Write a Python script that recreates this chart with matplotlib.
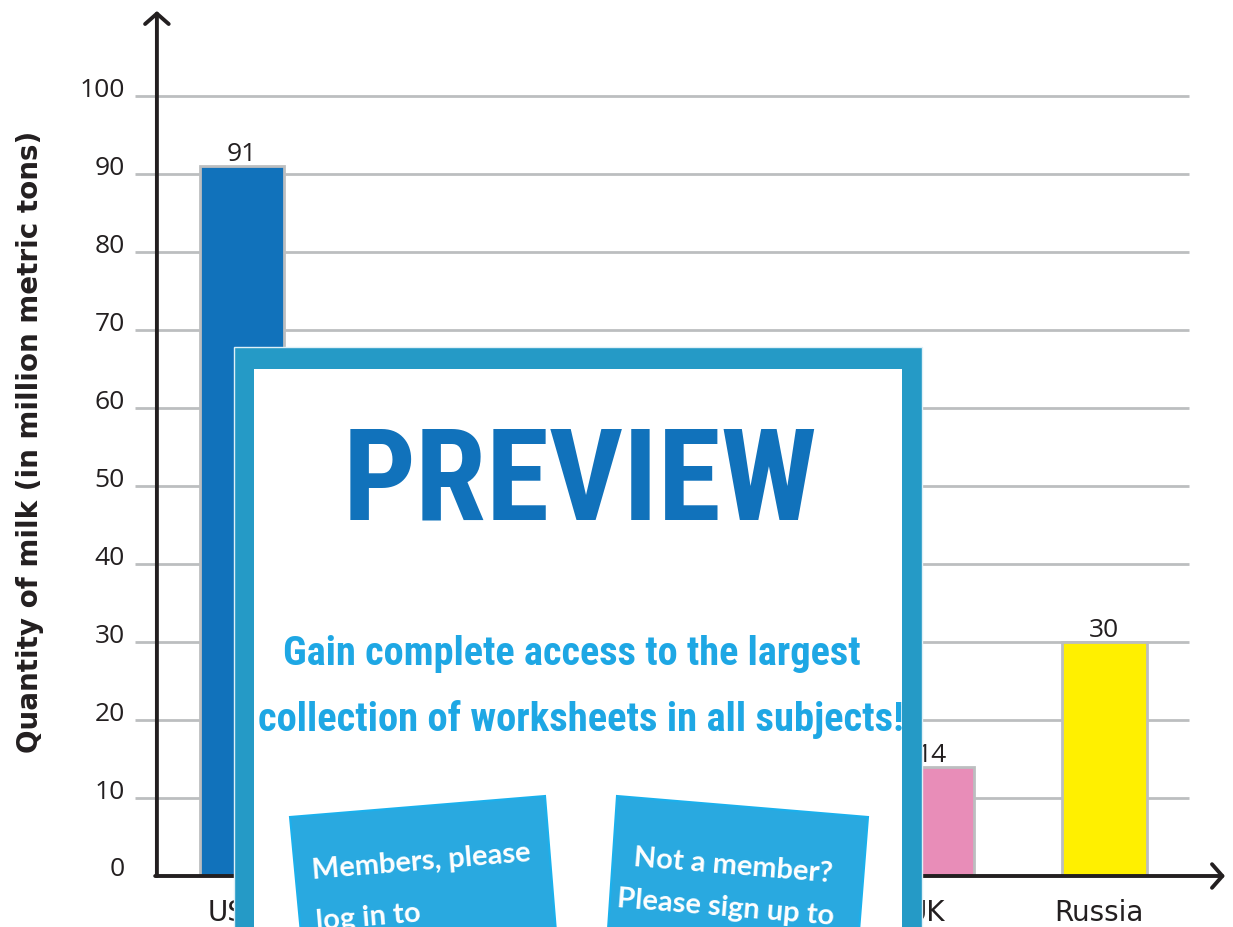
import matplotlib.pyplot as plt
from matplotlib.patches import Rectangle, Polygon
from matplotlib import transforms
from matplotlib import font_manager as fm

# data (three middle bars are hidden behind the preview panel)
countries = ["USA", "India", "China", "Brazil", "UK", "Russia"]
milk = [91, 60, 36, 32, 14, 30]
bar_colors = ["#1172bb", "#3cb44b", "#f58231", "#911eb4", "#e88db8", "#fff000"]
yticks = [0, 10, 20, 30, 40, 50, 60, 70, 80, 90, 100]

# look for a condensed bold face for the preview panel
cond = [f for f in fm.fontManager.ttflist
        if ("ondensed" in f.fname or "Narrow" in f.fname) and "Bold" in f.fname
        and "Oblique" not in f.fname and "Italic" not in f.fname]
cond.sort(key=lambda f: ("Roboto" not in f.fname, "Serif" not in f.fname, f.fname))
if cond:
    narrow = fm.FontProperties(fname=cond[0].fname)
else:
    narrow = fm.FontProperties(family="DejaVu Sans", weight="bold")

W, H = 1233, 928
fig = plt.figure(figsize=(W / 100, H / 100), dpi=100)
ax = fig.add_axes([135 / W, (H - 877) / H, (1225 - 135) / W, (877 - 12) / H])
ax.set_xlim(-0.62, 5.70)
ax.set_ylim(0, 110.9)
for s in ax.spines.values():
    s.set_visible(False)
ax.set_xticks([])
ax.set_yticks([])

tickfont = dict(family="Open Sans", size=19, color="#231f20")
axis_x = -0.493

# grid
ax.hlines(yticks[1:], -0.62, 5.49, color="#bcbec0", lw=2, zorder=1)
off = transforms.offset_copy(ax.transData, fig=fig, x=0, y=7, units="dots")
for t in yticks:
    ax.text(-0.68, t, str(t), ha="right", va="center", transform=off, **tickfont)

# bars
x = list(range(len(countries)))
ax.bar(x, milk, width=0.49, color=bar_colors, edgecolor="#bcbec0", lw=2, zorder=2)
for xi, v in zip(x, milk):
    ax.annotate(str(v), (xi, v), xytext=(0, 0), textcoords="offset points",
                ha="center", va="bottom", **tickfont)
for xi, c in zip(x, countries):
    ax.annotate(c, (xi, 0), xytext=(-4, -26), textcoords="offset points",
                ha="center", va="center", annotation_clip=False,
                family="DejaVu Sans", size=20, color="#231f20")

# axes with arrows
arrow = dict(arrowstyle="->,head_length=0.75,head_width=0.85", lw=2.8, color="#231f20",
             shrinkA=0, shrinkB=0)
ax.annotate("", xy=(axis_x, 110.9), xytext=(axis_x, 0), arrowprops=arrow, annotation_clip=False)
ax.annotate("", xy=(5.70, 0), xytext=(axis_x - 0.01, 0), arrowprops=arrow, annotation_clip=False)

fig.text(30 / W, 1 - 442 / H, "Quantity of milk (in million metric tons)", rotation=90,
         ha="center", va="center", fontsize=20, fontweight="bold", color="#231f20",
         family="DejaVu Sans")

# preview panel on top
ov = fig.add_axes([0, 0, 1, 1], zorder=10)
ov.set_xlim(0, W)
ov.set_ylim(H, 0)
ov.axis("off")
ov.add_patch(Rectangle((234, 348), 688, 620, facecolor="#259ac6", edgecolor="#dff0f7", lw=1))
ov.add_patch(Rectangle((254, 370), 648, 620, facecolor="white", edgecolor="none"))

renderer = fig.canvas.get_renderer()


def fit_text(xc, yc, s, width_px, color):
    t = ov.text(xc, yc, s, ha="center", va="center", fontproperties=narrow,
                fontsize=50, color=color)
    w = t.get_window_extent(renderer).width
    t.set_fontsize(50 * width_px / w)
    return t


fit_text(580, 485, "PREVIEW", 475, "#1172bb")
fit_text(572, 654, "Gain complete access to the largest", 580, "#1ea7e4")
fit_text(581, 720, "collection of worksheets in all subjects!", 647, "#1ea7e4")

ov.add_patch(Polygon([(290, 818), (545, 797), (557, 945), (302, 945)],
                     facecolor="#29a9e0", edgecolor="#1bb0ec", lw=1.5))
ov.add_patch(Polygon([(617, 797), (868, 818), (858, 945), (607, 945)],
                     facecolor="#29a9e0", edgecolor="#1bb0ec", lw=1.5))
hand = dict(family="Lato", fontsize=21, fontweight="bold", color="white")
ov.text(421, 862, "Members, please", ha="center", va="center", rotation=4.7, **hand)
ov.text(315, 918, "log in to", ha="left", va="center", rotation=4.7, **hand)
ov.text(733, 866, "Not a member?", ha="center", va="center", rotation=-4.7, **hand)
ov.text(616, 908, "Please sign up to", ha="left", va="center", rotation=-4.7, **hand)

fig.savefig("out.png", dpi=100)
